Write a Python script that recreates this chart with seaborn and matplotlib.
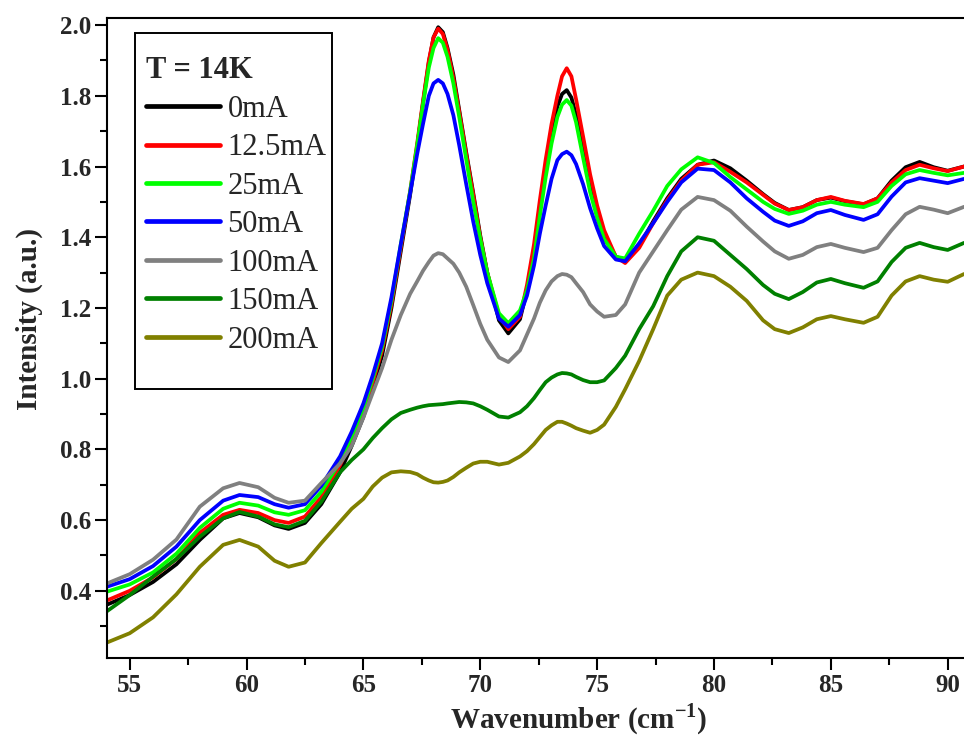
import matplotlib
matplotlib.use("Agg")
import matplotlib.pyplot as plt
from matplotlib.patches import Rectangle
from matplotlib.ticker import MultipleLocator, FormatStrFormatter
import pandas as pd
import seaborn as sns

# datos
wavenumber = [54.0, 55.0, 56.0, 57.0, 58.0, 59.0, 59.7, 60.5, 61.2, 61.8,
              62.5, 63.2, 64.0, 64.5, 65.0, 65.4, 65.8, 66.2, 66.6, 67.0,
              67.3, 67.55, 67.8, 68.0, 68.2, 68.4, 68.6, 68.85, 69.1, 69.4,
              69.7, 70.0, 70.3, 70.8, 71.2, 71.7, 72.0, 72.3, 72.55, 72.8,
              73.05, 73.3, 73.5, 73.7, 73.9, 74.1, 74.4, 74.7, 75.0, 75.3,
              75.8, 76.2, 76.8, 77.4, 78.0, 78.6, 79.3, 80.0, 80.7, 81.4,
              82.1, 82.6, 83.2, 83.8, 84.4, 85.0, 85.6, 86.4, 87.0, 87.6,
              88.2, 88.8, 89.4, 90.0, 90.7]

i_0mA = [0.360, 0.388, 0.425, 0.475, 0.544, 0.605, 0.620, 0.608, 0.585, 0.575,
         0.592, 0.645, 0.735, 0.810, 0.892, 0.975, 1.065, 1.200, 1.360, 1.520,
         1.655, 1.780, 1.895, 1.965, 1.994, 1.980, 1.935, 1.860, 1.760, 1.640,
         1.525, 1.405, 1.300, 1.165, 1.128, 1.168, 1.250, 1.360, 1.480, 1.590,
         1.690, 1.770, 1.805, 1.816, 1.795, 1.745, 1.650, 1.545, 1.465, 1.405,
         1.345, 1.335, 1.375, 1.445, 1.510, 1.565, 1.605, 1.617, 1.595, 1.560,
         1.522, 1.497, 1.477, 1.485, 1.505, 1.512, 1.502, 1.493, 1.510, 1.560,
         1.598, 1.613, 1.598, 1.588, 1.600]

i_12mA = [0.372, 0.400, 0.438, 0.490, 0.564, 0.615, 0.629, 0.620, 0.600, 0.592,
          0.610, 0.665, 0.755, 0.828, 0.910, 0.990, 1.080, 1.210, 1.370, 1.530,
          1.665, 1.785, 1.900, 1.965, 1.990, 1.975, 1.930, 1.850, 1.755, 1.635,
          1.520, 1.400, 1.300, 1.178, 1.140, 1.175, 1.265, 1.380, 1.505, 1.620,
          1.720, 1.800, 1.855, 1.878, 1.855, 1.790, 1.685, 1.578, 1.490, 1.420,
          1.345, 1.327, 1.370, 1.440, 1.505, 1.560, 1.605, 1.612, 1.585, 1.555,
          1.520, 1.495, 1.477, 1.485, 1.505, 1.514, 1.503, 1.494, 1.510, 1.555,
          1.590, 1.605, 1.595, 1.587, 1.600]

i_25mA = [0.397, 0.418, 0.452, 0.505, 0.578, 0.632, 0.649, 0.641, 0.622, 0.615,
          0.628, 0.680, 0.765, 0.836, 0.917, 1.000, 1.090, 1.220, 1.380, 1.530,
          1.660, 1.775, 1.880, 1.935, 1.963, 1.950, 1.910, 1.835, 1.740, 1.620,
          1.500, 1.395, 1.300, 1.185, 1.157, 1.193, 1.250, 1.340, 1.460, 1.570,
          1.665, 1.740, 1.775, 1.788, 1.772, 1.725, 1.625, 1.528, 1.455, 1.395,
          1.345, 1.340, 1.410, 1.475, 1.545, 1.592, 1.626, 1.610, 1.570, 1.535,
          1.500, 1.480, 1.466, 1.475, 1.492, 1.500, 1.492, 1.485, 1.500, 1.545,
          1.578, 1.590, 1.582, 1.575, 1.582]

i_50mA = [0.411, 0.433, 0.470, 0.525, 0.600, 0.655, 0.671, 0.665, 0.645, 0.635,
          0.645, 0.697, 0.780, 0.850, 0.930, 1.010, 1.100, 1.230, 1.380, 1.525,
          1.635, 1.720, 1.800, 1.835, 1.845, 1.835, 1.805, 1.745, 1.660, 1.550,
          1.444, 1.350, 1.270, 1.170, 1.147, 1.180, 1.235, 1.320, 1.410, 1.490,
          1.565, 1.618, 1.635, 1.642, 1.632, 1.607, 1.550, 1.482, 1.425, 1.375,
          1.337, 1.332, 1.383, 1.440, 1.500, 1.555, 1.594, 1.590, 1.555, 1.510,
          1.472, 1.447, 1.432, 1.445, 1.468, 1.477, 1.463, 1.449, 1.465, 1.515,
          1.555, 1.567, 1.560, 1.553, 1.565]

i_100mA = [0.420, 0.447, 0.488, 0.545, 0.638, 0.690, 0.705, 0.693, 0.663, 0.649,
           0.655, 0.705, 0.760, 0.810, 0.890, 0.960, 1.030, 1.110, 1.180, 1.240,
           1.275, 1.305, 1.330, 1.348, 1.355, 1.352, 1.340, 1.325, 1.300, 1.260,
           1.208, 1.155, 1.110, 1.060, 1.047, 1.080, 1.125, 1.170, 1.215, 1.250,
           1.275, 1.290, 1.296, 1.294, 1.287, 1.270, 1.245, 1.210, 1.190, 1.175,
           1.180, 1.210, 1.300, 1.360, 1.420, 1.478, 1.514, 1.505, 1.475, 1.430,
           1.388, 1.360, 1.339, 1.350, 1.372, 1.381, 1.370, 1.358, 1.370, 1.420,
           1.465, 1.486, 1.478, 1.468, 1.486]

i_150mA = [0.341, 0.388, 0.440, 0.490, 0.553, 0.605, 0.623, 0.610, 0.588, 0.580,
           0.598, 0.652, 0.735, 0.770, 0.800, 0.832, 0.860, 0.885, 0.903, 0.912,
           0.918, 0.922, 0.925, 0.926, 0.927, 0.928, 0.930, 0.932, 0.934, 0.933,
           0.930, 0.922, 0.912, 0.893, 0.890, 0.905, 0.922, 0.945, 0.968, 0.990,
           1.003, 1.012, 1.016, 1.015, 1.012, 1.005, 0.996, 0.990, 0.990, 0.995,
           1.030, 1.065, 1.140, 1.205, 1.290, 1.360, 1.400, 1.390, 1.350, 1.310,
           1.265, 1.240, 1.225, 1.245, 1.272, 1.282, 1.270, 1.257, 1.275, 1.330,
           1.370, 1.384, 1.372, 1.364, 1.384]

i_200mA = [0.253, 0.280, 0.325, 0.390, 0.468, 0.530, 0.544, 0.525, 0.485, 0.468,
           0.480, 0.535, 0.595, 0.632, 0.660, 0.695, 0.720, 0.735, 0.738, 0.736,
           0.730, 0.720, 0.712, 0.707, 0.706, 0.708, 0.712, 0.722, 0.735, 0.748,
           0.760, 0.765, 0.765, 0.757, 0.762, 0.780, 0.795, 0.815, 0.835, 0.855,
           0.868, 0.878, 0.878, 0.873, 0.867, 0.860, 0.853, 0.847, 0.855, 0.870,
           0.920, 0.970, 1.050, 1.140, 1.235, 1.280, 1.300, 1.290, 1.260, 1.220,
           1.165, 1.140, 1.129, 1.145, 1.168, 1.177, 1.168, 1.158, 1.175, 1.235,
           1.275, 1.290, 1.280, 1.274, 1.296]

corrientes = ['0mA', '12.5mA', '25mA', '50mA', '100mA', '150mA', '200mA']
colores = ['#000000', '#FF0000', '#00FF00', '#0000FF', '#808080', '#008000', '#808000']
series = [i_0mA, i_12mA, i_25mA, i_50mA, i_100mA, i_150mA, i_200mA]

df = pd.concat(
    [pd.DataFrame({'wavenumber': wavenumber, 'intensity': s, 'current': c})
     for s, c in zip(series, corrientes)],
    ignore_index=True)

sns.set_theme(style="ticks")
plt.rcParams['font.family'] = ['Liberation Serif', 'DejaVu Serif']
plt.rcParams['font.weight'] = 'bold'
plt.rcParams['mathtext.fontset'] = 'custom'
plt.rcParams['mathtext.rm'] = 'Liberation Serif'
plt.rcParams['mathtext.bf'] = 'Liberation Serif:bold'

fig = plt.figure(figsize=(9.64, 7.45), dpi=100)
# el eje original sigue mas alla del borde derecho (imagen recortada)
ax = fig.add_axes([107 / 964, 87 / 745, 944 / 964, 640 / 745])

sns.lineplot(data=df, x='wavenumber', y='intensity', hue='current',
             hue_order=corrientes, palette=colores, linewidth=2.7,
             estimator=None, sort=False, ax=ax)

ax.set_xlim(54.03, 94.42)
ax.set_ylim(0.21, 2.02)
ax.xaxis.set_major_locator(MultipleLocator(5))
ax.xaxis.set_minor_locator(MultipleLocator(2.5))
ax.yaxis.set_major_locator(MultipleLocator(0.2))
ax.yaxis.set_minor_locator(MultipleLocator(0.1))
ax.yaxis.set_major_formatter(FormatStrFormatter('%.1f'))

for sp in ax.spines.values():
    sp.set_linewidth(1.5)
    sp.set_color('black')
ax.tick_params(which='major', direction='out', length=8.5, width=1.5, labelsize=18, pad=3, color='black')
ax.tick_params(which='minor', direction='out', length=4.8, width=1.5, color='black')

ax.set_xlabel('Wavenumber (cm$^{\\mathbf{-1}}$)', fontsize=21, fontweight='bold', labelpad=3)
ax.set_ylabel('Intensity (a.u.)', fontsize=21, fontweight='bold')
ax.yaxis.set_label_coords(-0.068, 0.53)

# leyenda
leg = ax.get_legend()
handles = leg.legend_handles
labels = [t.get_text() for t in leg.get_texts()]
leg.remove()
for h in handles:
    h.set_linewidth(3.4)
ax.legend(handles, labels, title='T = 14K', loc='upper left',
          bbox_to_anchor=(131 / 964, 1 - 41 / 745), bbox_transform=fig.transFigure,
          frameon=False, borderpad=0, handlelength=2.4, handletextpad=0.26,
          labelspacing=0.31, alignment='left',
          prop={'family': 'Liberation Serif', 'weight': 'normal', 'size': 22},
          title_fontproperties={'family': 'Liberation Serif', 'weight': 'bold', 'size': 22})
fig.add_artist(Rectangle((135 / 964, 1 - 389 / 745), 197 / 964, 356 / 745,
                         transform=fig.transFigure, fill=False, edgecolor='black', linewidth=1.4))

plt.savefig('out.png', dpi=100)
